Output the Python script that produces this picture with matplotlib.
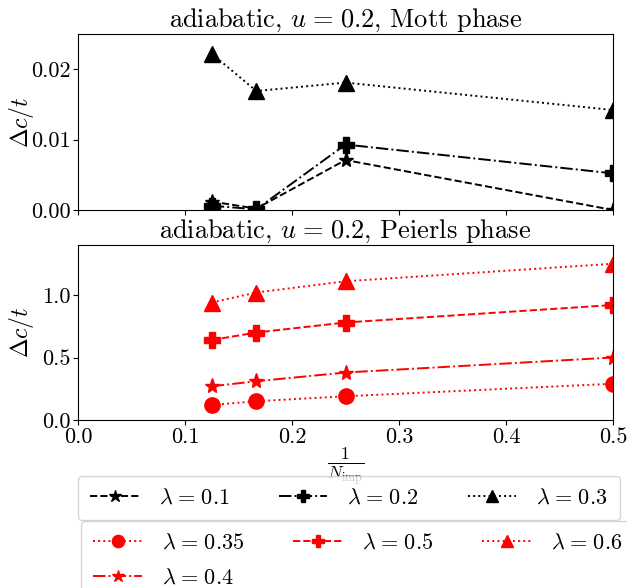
import matplotlib
matplotlib.use("Agg")
import matplotlib.pyplot as plt

plt.rcParams['font.family'] = 'serif'
plt.rcParams['font.serif'] = ['cmr10']
plt.rcParams['mathtext.fontset'] = 'cm'
plt.rcParams['axes.unicode_minus'] = False

x = [1/8, 1/6, 1/4, 1/2]

# Mott phase (top)
mott_lams = ["0.1", "0.2", "0.3"]
mott_vals = [
    [0.0012, 0.0002, 0.0071, 0.0000],
    [0.0006, 0.0001, 0.0093, 0.0052],
    [0.0222, 0.0169, 0.0181, 0.0142],
]
# Peierls phase (bottom)
peierls_lams = ["0.35", "0.4", "0.5", "0.6"]
peierls_vals = [
    [0.12, 0.15, 0.19, 0.29],
    [0.27, 0.31, 0.38, 0.50],
    [0.64, 0.70, 0.78, 0.92],
    [0.94, 1.02, 1.11, 1.25],
]
xticks = [0.0, 0.1, 0.2, 0.3, 0.4, 0.5]
xticklabels = ['0.0', '0.1', '0.2', '0.3', '0.4', '0.5']
yticks_top = [0.0, 0.01, 0.02]
yticklabels_top = ['0.00', '0.01', '0.02']
yticks_bot = [0.0, 0.5, 1.0]
yticklabels_bot = ['0.0', '0.5', '1.0']

mott_styles = [('--', '*'), ('-.', 'P'), (':', '^')]
peierls_styles = [(':', 'o'), ('-.', '*'), ('--', 'P'), (':', '^')]

fig = plt.figure(figsize=(6.27, 5.88), dpi=100)
W, H = 627, 588
def rect(l, r, t, b):
    return [l / W, 1 - b / H, (r - l) / W, (b - t) / H]

ax1 = fig.add_axes(rect(78, 613, 34, 210))
ax2 = fig.add_axes(rect(78, 613, 245, 420), sharex=ax1)

ms = 11
lw = 1.4
sp = r'\hspace{0.1}'
h1 = []
for lam, vals, (ls, mk) in zip(mott_lams, mott_vals, mott_styles):
    l, = ax1.plot(x, vals, linestyle=ls, marker=mk, color='black', lw=lw,
                  markersize=ms, label=r'$\lambda%s=%s%s$' % (sp, sp, lam))
    h1.append(l)
h2 = []
for lam, vals, (ls, mk) in zip(peierls_lams, peierls_vals, peierls_styles):
    l, = ax2.plot(x, vals, linestyle=ls, marker=mk, color='red', lw=lw,
                  markersize=ms, label=r'$\lambda%s=%s%s$' % (sp, sp, lam))
    h2.append(l)

ax1.set_xlim(0, 0.5)
ax1.set_ylim(0, 0.025)
ax2.set_ylim(0, 1.4)
ax1.set_yticks(yticks_top)
ax1.set_yticklabels(yticklabels_top)
ax2.set_yticks(yticks_bot)
ax2.set_yticklabels(yticklabels_bot)
ax2.set_xticks(xticks)
ax2.set_xticklabels(xticklabels)
plt.setp(ax1.get_xticklabels(), visible=False)

for ax in (ax1, ax2):
    ax.tick_params(labelsize=16, pad=2)
    ax.set_ylabel(r'$\Delta c/t$', fontsize=17)
    ax.yaxis.set_label_coords(-0.078, 0.5)

ax1.set_title(r'adiabatic, $u%s=%s0.2$, Mott phase' % (sp, sp), fontsize=19, pad=3)
ax2.set_title(r'adiabatic, $u%s=%s0.2$, Peierls phase' % (sp, sp), fontsize=19, pad=3)
ax2.set_xlabel(r'$\frac{1}{N_{\rm imp}}$', fontsize=18)
ax2.xaxis.set_label_coords(0.5, -0.145)

leg_kw = dict(ncol=3, fontsize=16, borderaxespad=0, frameon=True, markerscale=0.8,
              handlelength=2.2, handletextpad=0.9, columnspacing=2.2,
              labelspacing=0.7, borderpad=0.55)
leg1 = fig.legend(handles=h1, loc='upper center', bbox_to_anchor=(349 / W, 1 - 476 / H), **leg_kw)
leg2 = fig.legend(handles=h2, loc='upper left', bbox_to_anchor=(81 / W, 1 - 521 / H), **leg_kw)

fig.savefig('out.png', dpi=100)
